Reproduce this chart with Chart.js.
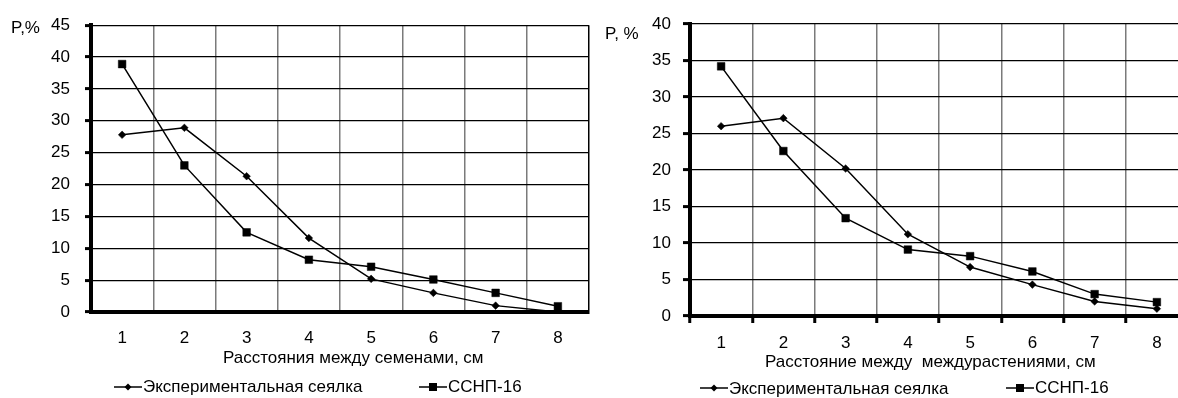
<!DOCTYPE html>
<html>
<head>
<meta charset="utf-8">
<script src="https://cdn.jsdelivr.net/npm/chart.js@4.4.1/dist/chart.umd.min.js"></script>
<style>
html,body{margin:0;padding:0;background:#fff;width:1178px;height:398px;overflow:hidden;position:relative;font-family:"Liberation Sans",Arial,sans-serif;color:#000;}
canvas{position:absolute;top:0;}
.lab{position:absolute;font-size:17px;line-height:17px;white-space:pre;color:#000;}
.mk{position:absolute;}
</style>
</head>
<body>
<canvas id="c1" width="600" height="398" style="left:0px"></canvas>
<canvas id="c2" width="610" height="398" style="left:595px"></canvas>

<div class="lab" style="left:11px;top:19px">P,%</div>
<div class="lab" style="left:605px;top:25px">P, %</div>
<div class="lab" style="left:223px;top:349px">Расстояния между семенами, см</div>
<div class="lab" style="left:765px;top:353px">Расстояние между  междурастениями, см</div>

<svg class="mk" style="left:114px;top:381px" width="28" height="12"><line x1="0" y1="6" x2="28" y2="6" stroke="#000" stroke-width="1.5"/><polygon points="14,2.5 17.5,6 14,9.5 10.5,6" fill="#000"/></svg>
<div class="lab" style="left:143px;top:378px">Экспериментальная сеялка</div>
<svg class="mk" style="left:419px;top:381px" width="28" height="12"><line x1="0" y1="6" x2="28" y2="6" stroke="#000" stroke-width="1.5"/><rect x="10" y="2" width="8" height="8" fill="#000"/></svg>
<div class="lab" style="left:448px;top:378px">ССНП-16</div>

<svg class="mk" style="left:700px;top:382px" width="28" height="12"><line x1="0" y1="6" x2="28" y2="6" stroke="#000" stroke-width="1.5"/><polygon points="14,2.5 17.5,6 14,9.5 10.5,6" fill="#000"/></svg>
<div class="lab" style="left:729px;top:380px">Экспериментальная сеялка</div>
<svg class="mk" style="left:1006px;top:382px" width="28" height="12"><line x1="0" y1="6" x2="28" y2="6" stroke="#000" stroke-width="1.5"/><rect x="10" y="2" width="8" height="8" fill="#000"/></svg>
<div class="lab" style="left:1035px;top:379px">ССНП-16</div>

<script>
// ---- data ----
const categories = ['1', '2', '3', '4', '5', '6', '7', '8'];
const seriesNames = ['Экспериментальная сеялка', 'ССНП-16'];
const leftExperimental = [27.8, 28.9, 21.3, 11.6, 5.2, 3.0, 1.0, 0.0];
const leftSSNP = [38.9, 23.0, 12.5, 8.2, 7.1, 5.1, 3.0, 0.9];
const rightExperimental = [26.0, 27.1, 20.2, 11.2, 6.7, 4.3, 2.0, 1.0];
const rightSSNP = [34.2, 22.6, 13.4, 9.1, 8.2, 6.1, 3.0, 1.9];
const leftYMax = 45;
const rightYMax = 40;
const yStep = 5;

function makeChart(id, expData, ssnpData, o) {
  const font = { family: '"Liberation Sans", Arial, sans-serif', size: 17 };
  return new Chart(document.getElementById(id), {
    type: 'line',
    data: {
      labels: categories,
      datasets: [
        { label: seriesNames[0], data: expData, borderColor: '#000', borderWidth: 1.5,
          pointStyle: 'rectRot', pointRadius: 3.8, pointBackgroundColor: '#000', pointBorderColor: '#000', pointBorderWidth: 0.5, tension: 0 },
        { label: seriesNames[1], data: ssnpData, borderColor: '#000', borderWidth: 1.5,
          pointStyle: 'rect', pointRadius: 5.4, pointBackgroundColor: '#000', pointBorderColor: '#000', pointBorderWidth: 0.5, tension: 0 }
      ]
    },
    options: {
      responsive: false,
      animation: false,
      layout: { padding: { top: o.top, right: o.right, left: 0, bottom: 0 } },
      plugins: { legend: { display: false }, tooltip: { enabled: false } },
      scales: {
        x: {
          type: 'category',
          offset: true,
          grid: {
            offset: true,
            color: (ctx) => ctx.tick ? '#7a7a7a' : '#000',
            lineWidth: 1.5,
            drawTicks: o.xTicks,
            tickLength: 7,
            tickWidth: 3,
            tickColor: '#000'
          },
          border: { display: true, color: '#000', width: 4 },
          ticks: { color: '#000', font: font, padding: o.xPad, maxRotation: 0 },
          afterFit: (s) => { s.height = o.xHeight; }
        },
        y: {
          min: 0, max: o.yMax,
          ticks: { stepSize: yStep, color: '#000', font: font, padding: o.yPad },
          grid: { color: '#000', lineWidth: 1.2, tickLength: o.yTick, tickWidth: 3, tickColor: '#000' },
          border: { display: true, color: '#000', width: 4 },
          afterFit: (s) => { s.width = o.yWidth; }
        }
      }
    }
  });
}

makeChart('c1', leftExperimental, leftSSNP,
  { yMax: leftYMax, top: 19, right: 11, yWidth: 91, xHeight: 86, xTicks: false, xPad: 16, yPad: 15, yTick: 6 });
makeChart('c2', rightExperimental, rightSSNP,
  { yMax: rightYMax, top: 24, right: 17, yWidth: 95, xHeight: 82, xTicks: true, xPad: 10, yPad: 12, yTick: 7 });
</script>
</body>
</html>
